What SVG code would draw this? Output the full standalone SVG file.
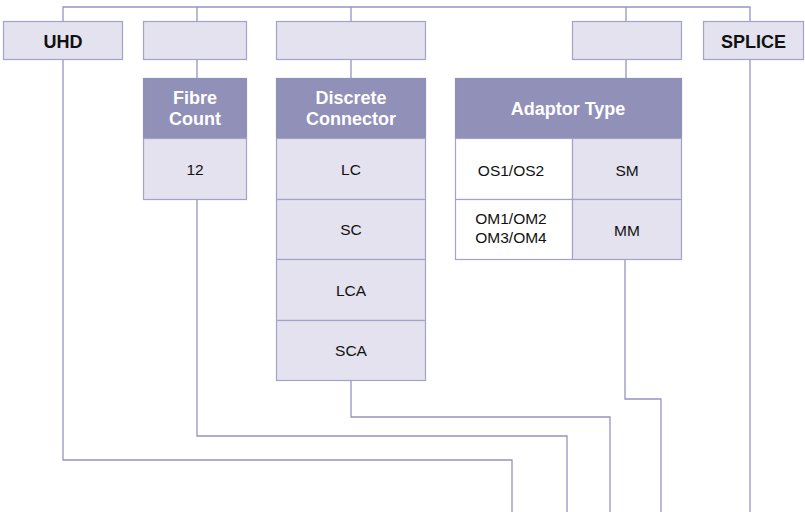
<svg xmlns="http://www.w3.org/2000/svg" width="805" height="512" viewBox="0 0 805 512">
<style>
.box{fill:#e3e2ee;stroke:#a3a2c8;stroke-width:1.2}
.wbox{fill:#ffffff;stroke:#a3a2c8;stroke-width:1.2}
.hdr{fill:#9190b9;stroke:#9190b9;stroke-width:1.2}
.lbl{font-family:"Liberation Sans",Arial,sans-serif;font-weight:bold;font-size:18px;fill:#111;text-anchor:middle}
.htx{font-family:"Liberation Sans",Arial,sans-serif;font-weight:bold;font-size:18px;fill:#fff;text-anchor:middle}
.btx{font-family:"Liberation Sans",Arial,sans-serif;font-size:15.5px;fill:#111;text-anchor:middle}
.con{fill:none;stroke:#9594c2;stroke-width:1.3}
</style>
<rect width="805" height="512" fill="#fff"/>
<g id="connectors">
<path class="con" d="M63 21V7H750V21M197 7V21M351 7V21M626 7V21"/>
<path class="con" d="M197 59V78M351 59V78M626 59V78"/>
<path class="con" d="M63 59V460H512V512"/>
<path class="con" d="M197 199V436H567V512"/>
<path class="con" d="M351 380V417H610V512"/>
<path class="con" d="M625 259V399H661V512"/>
<path class="con" d="M750 59V512"/>
</g>
<g id="uhd"><rect class="box" x="3.5" y="21.5" width="119" height="38"/><text class="lbl" x="63" y="47.5">UHD</text></g>
<g id="top2"><rect class="box" x="143.5" y="21.5" width="103" height="38"/></g>
<g id="top3"><rect class="box" x="276.5" y="21.5" width="149" height="38"/></g>
<g id="top4"><rect class="box" x="572.5" y="21.5" width="109" height="38"/></g>
<g id="splice"><rect class="box" x="703.5" y="21.5" width="100" height="38"/><text class="lbl" x="753.5" y="47.5">SPLICE</text></g>
<g id="fibre-count">
<rect class="hdr" x="143.5" y="78.5" width="103" height="60"/>
<text class="htx" x="195" y="104">Fibre</text><text class="htx" x="195" y="125">Count</text>
<rect class="box" x="143.5" y="138.5" width="103" height="61"/>
<text class="btx" x="195" y="175">12</text>
</g>
<g id="discrete-connector">
<rect class="hdr" x="276.5" y="78.5" width="149" height="60"/>
<text class="htx" x="351" y="104">Discrete</text><text class="htx" x="351" y="125">Connector</text>
<rect class="box" x="276.5" y="138.5" width="149" height="61"/>
<text class="btx" x="351" y="175">LC</text>
<rect class="box" x="276.5" y="199.5" width="149" height="60"/>
<text class="btx" x="351" y="235">SC</text>
<rect class="box" x="276.5" y="259.5" width="149" height="61"/>
<text class="btx" x="351" y="296">LCA</text>
<rect class="box" x="276.5" y="320.5" width="149" height="60"/>
<text class="btx" x="351" y="356">SCA</text>
</g>
<g id="adaptor-type">
<rect class="hdr" x="455.5" y="78.5" width="226" height="60"/>
<text class="htx" x="568" y="115">Adaptor Type</text>
<rect class="wbox" x="455.5" y="138.5" width="117" height="61"/>
<text class="btx" x="511" y="176">OS1/OS2</text>
<rect class="box" x="572.5" y="138.5" width="109" height="61"/>
<text class="btx" x="627" y="176">SM</text>
<rect class="wbox" x="455.5" y="199.5" width="117" height="60"/>
<text class="btx" x="511" y="223.5">OM1/OM2</text><text class="btx" x="511" y="243">OM3/OM4</text>
<rect class="box" x="572.5" y="199.5" width="109" height="60"/>
<text class="btx" x="627" y="236">MM</text>
</g>
</svg>
